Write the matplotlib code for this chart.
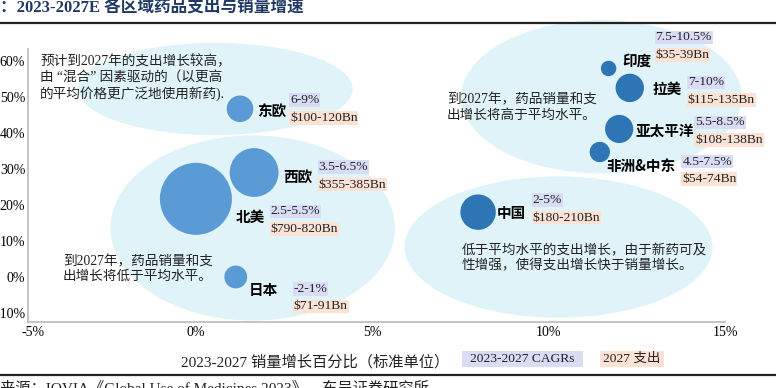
import matplotlib
matplotlib.use("Agg")
import matplotlib.pyplot as plt
from matplotlib.patches import Ellipse, Rectangle
from matplotlib.lines import Line2D

# ---------------- data ----------------
regions = ['北美', '西欧', '东欧', '日本', '中国', '印度', '拉美', '亚太平洋', '非洲&中东']
volume_growth = [0.0, 1.65, 1.25, 1.13, 8.0, 11.7, 12.3, 12.0, 11.45]   # x, %
spend_growth = [21.7, 29.0, 46.7, 0.0, 18.0, 57.9, 52.5, 41.1, 34.7]     # y, %
spend_mid = [805, 370, 110, 81, 195, 37, 125, 123, 64]                    # bubble size, $Bn
cagr_labels = ['2.5-5.5%', '3.5-6.5%', '6-9%', '-2-1%', '2-5%', '7.5-10.5%', '7-10%', '5.5-8.5%', '4.5-7.5%']
spend_labels = ['$790-820Bn', '$355-385Bn', '$100-120Bn', '$71-91Bn', '$180-210Bn',
                '$35-39Bn', '$115-135Bn', '$108-138Bn', '$54-74Bn']
group = ['dev', 'dev', 'dev', 'dev', 'em', 'em', 'em', 'em', 'em']

x_ticks = [0, 5, 10, 15]
y_ticks = [-10, 0, 10, 20, 30, 40, 50, 60]

# ---------------- style ----------------
W, H = 776, 388
DPI = 100
PT = 72 / DPI  # points per pixel
SERIF = ['Liberation Serif', 'Noto Sans CJK SC']
CJK = ['Noto Sans CJK SC', 'DejaVu Sans']
C_LIGHT = '#5b9bd5'
C_DARK = '#2e75b6'
C_ELL = '#dff3f8'
C_CAGR = '#d9dcf5'
C_SPEND = '#fbe2d4'

fig = plt.figure(figsize=(W / DPI, H / DPI), dpi=DPI)
fig.patch.set_facecolor('white')


def fx(px):
    return px / W


def fy(py):
    return 1 - py / H


ax = fig.add_axes([fx(28), fy(322), fx(725) - fx(28), fy(49) - fy(322)])
ax.set_facecolor('none')
ax.set_xlim(-4.76, 15)
ax.set_ylim(-12.5, 63.3)

for s in ['top', 'right']:
    ax.spines[s].set_visible(False)
for s in ['left', 'bottom']:
    ax.spines[s].set_color('#bfbfbf')
    ax.spines[s].set_linewidth(1.3)

ax.set_xticks([-4.62] + x_ticks)
ax.set_xticklabels(['-5%'] + [f'{v}%' for v in x_ticks], family=SERIF, fontsize=10)
ax.set_yticks(y_ticks)
ax.set_yticklabels([f'{v}%' for v in y_ticks], family=SERIF, fontsize=10)
ax.tick_params(length=0, pad=3)
ax.tick_params(axis='y', pad=2)

# background ellipses (annotation groups)
ellipses = [(0.55, 52.2, 7.79, 25.6), (1.61, 13.6, 8.07, 51.4),
            (11.5, 50.0, 7.96, 42.5), (10.28, 8.3, 8.73, 39.2)]
for (cx, cy, w, h) in ellipses:
    ax.add_patch(Ellipse((cx, cy), w, h, facecolor=C_ELL, edgecolor='none',
                         zorder=1, clip_on=False))

# bubbles
K = 3.34
colors = [C_LIGHT if g == 'dev' else C_DARK for g in group]
ax.scatter(volume_growth, spend_growth, s=[K * v for v in spend_mid], c=colors,
           edgecolors='none', zorder=3, clip_on=False)

# label offsets in pixels (dx right, dy down)
name_off = [(54.5, 18), (43.5, 4.5), (32, 3), (28, 13), (33.5, 1),
            (28, -7.5), (37, 1), (46, 2), (41.5, 14)]
box_off = [(74.5, 12.5), (64.5, -5.5), (50, -8.5), (58, 12), (54.5, -12),
           (47, -31), (58, -5.5), (76, -6.5), (82.5, 9.5)]
LINE = 17.5

for i, name in enumerate(regions):
    x, y = volume_growth[i], spend_growth[i]
    dx, dy = name_off[i]
    ax.annotate(name, (x, y), xytext=(dx * PT, -dy * PT), textcoords='offset points',
                ha='center', va='center', fontsize=10.5, fontweight='bold',
                family=CJK, color='black', zorder=5, annotation_clip=False)
    bx, by = box_off[i]
    ax.annotate(cagr_labels[i], (x, y), xytext=(bx * PT, -by * PT), textcoords='offset points',
                ha='left', va='center', fontsize=9.7, family=SERIF, color='#222222', zorder=5,
                annotation_clip=False,
                bbox=dict(boxstyle='square,pad=0.06', fc=C_CAGR, ec='none'))
    ax.annotate(spend_labels[i], (x, y), xytext=(bx * PT, -(by + LINE) * PT), textcoords='offset points',
                ha='left', va='center', fontsize=9.7, family=SERIF, color='#222222', zorder=5,
                annotation_clip=False,
                bbox=dict(boxstyle='square,pad=0.06', fc=C_SPEND, ec='none'))

# annotation texts
notes = [
    (40, 78, '预计到2027年的支出增长较高，\n由 “混合” 因素驱动的（以更高\n的平均价格更广泛地使用新药).'),
    (447, 107.5, '到2027年，药品销量和支\n出增长将高于平均水平。'),
    (63, 269, '到2027年，药品销量和支\n出增长将低于平均水平。'),
    (462, 258, '低于平均水平的支出增长，由于新药可及\n性增强，使得支出增长快于销量增长。'),
]
for (px, py, t) in notes:
    fig.text(fx(px), fy(py), t, ha='left', va='center', fontsize=9.8, family=SERIF,
             color='#222222', linespacing=1.2, zorder=6)

# title and rules
fig.text(fx(0), fy(8), '：2023-2027E 各区域药品支出与销量增速', ha='left', va='center',
         fontsize=12, fontweight='bold', family=SERIF, color='#1f3864')
fig.add_artist(Line2D([0, 1], [fy(23), fy(23)], color='#222222', lw=1.6, transform=fig.transFigure))
fig.add_artist(Line2D([0, 1], [fy(374.5), fy(374.5)], color='#222222', lw=1.6, transform=fig.transFigure))

# x-axis title
fig.text(fx(315), fy(362), '2023-2027 销量增长百分比（标准单位）', ha='center', va='center',
         fontsize=11, family=SERIF, color='#222222')

# legend boxes
legend = [('2023-2027 CAGRs', C_CAGR, 462, 583), ('2027 支出', C_SPEND, 600, 664)]
for (t, c, x0, x1) in legend:
    fig.add_artist(Rectangle((fx(x0), fy(367)), fx(x1) - fx(x0), fy(351) - fy(367),
                             transform=fig.transFigure, facecolor=c, edgecolor='none'))
    fig.text(fx((x0 + x1) / 2), fy(359), t, ha='center', va='center', fontsize=9.7,
             family=SERIF, color='#222222')

# source line (cut at bottom)
fig.text(fx(0), fy(380), '来源：IQVIA《Global Use of Medicines 2023》，东吴证券研究所', ha='left', va='top',
         fontsize=11, family=SERIF, color='#222222')

fig.savefig('out.png', dpi=DPI, facecolor='white')
